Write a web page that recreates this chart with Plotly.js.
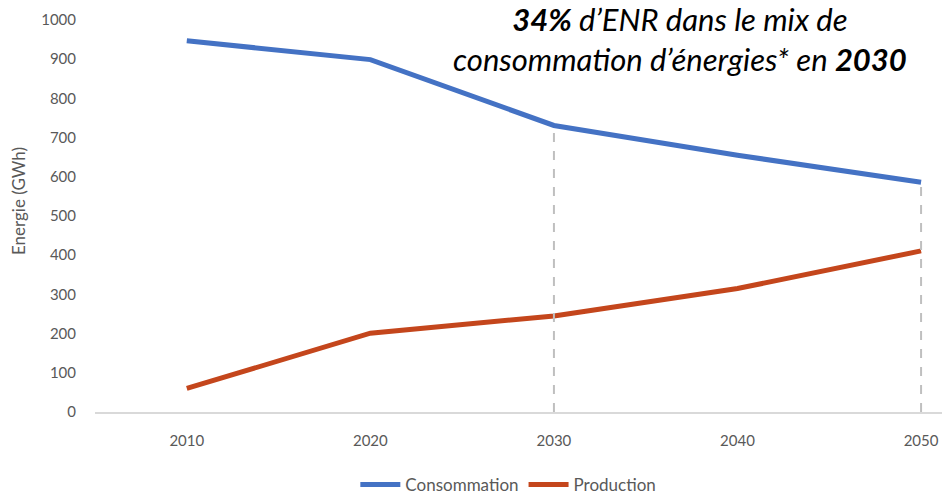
<!DOCTYPE html>
<html><head><meta charset="utf-8">
<script src="https://cdn.plot.ly/plotly-3.0.1.min.js"></script>
<style>html,body{margin:0;padding:0;background:#fff}#c{width:942px;height:497px}</style>
</head><body><div id="c"></div>
<script>
const years = ['2010','2020','2030','2040','2050'];
const consommation = [947, 899, 731, 655, 586];
const production = [60, 201, 245, 315, 411];
const markedYears = [2, 4]; // indices of dashed guides
const FONT = 'Lato, "Open Sans", sans-serif';
const GRAY = '#595959';

const traces = [
  {x: years, y: consommation, name: 'Consommation', type: 'scatter', mode: 'lines',
   line: {color: '#4472C4', width: 5}},
  {x: years, y: production, name: 'Production', type: 'scatter', mode: 'lines',
   line: {color: '#C4461C', width: 5}}
];

const shapes = markedYears.map(i => ({
  type: 'line', xref: 'x', yref: 'y', x0: i, x1: i, y0: 0, y1: consommation[i] - 12,
  line: {color: '#BFBFBF', width: 2, dash: 'dash'}, layer: 'above'
}));

const layout = {
  width: 942, height: 497,
  margin: {l: 95, r: 0, t: 20, b: 85, autoexpand: false},
  paper_bgcolor: '#fff', plot_bgcolor: '#fff',
  font: {family: FONT, color: GRAY, size: 15},
  showlegend: true,
  legend: {orientation: 'h', x: 0.488, xanchor: 'center', y: -0.186, yanchor: 'middle',
           font: {size: 17, color: GRAY}, itemwidth: 40},
  xaxis: {type: 'category', range: [-0.5, 4.114], showgrid: false, zeroline: false,
          showline: true, linecolor: '#D9D9D9', linewidth: 2, ticks: '',
          tickfont: {size: 15, color: GRAY}, ticklabelstandoff: 14, fixedrange: true},
  yaxis: {range: [0, 1000], dtick: 100, showgrid: false, zeroline: false, showline: false,
          ticks: '', tickfont: {size: 15, color: GRAY}, ticklabelstandoff: 18},
  shapes: shapes,
  annotations: [{
    xref: 'paper', yref: 'paper', x: 0.691, y: 1.055, xanchor: 'center', yanchor: 'top',
    showarrow: false, align: 'center',
    font: {family: FONT, size: 31, color: '#000'},
    text: '<b><i>34%</i></b><i> d’ENR dans le mix de</i><br><i>consommation d’énergies* en </i><b><i>2030</i></b>'
  }, {
    xref: 'paper', yref: 'paper', x: -0.091, y: 0.538, xanchor: 'center', yanchor: 'middle',
    showarrow: false, textangle: -90,
    font: {family: FONT, size: 17, color: GRAY},
    text: 'Energie (GWh)'
  }]
};

Plotly.newPlot('c', traces, layout, {displayModeBar: false, staticPlot: true});
</script></body></html>
